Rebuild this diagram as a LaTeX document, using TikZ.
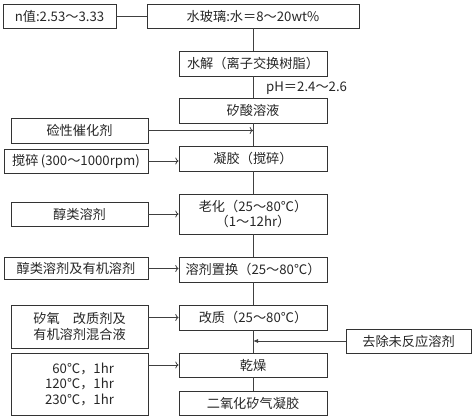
\documentclass[tikz,border=0pt]{standalone}
\usepackage{fontspec}
\setmainfont{Noto Sans CJK SC}
\usetikzlibrary{arrows.meta}
\begin{document}
\begin{tikzpicture}[x=1pt,y=-1pt]
\tikzstyle{every node}=[font=\fontsize{13.2}{15.5}\selectfont,inner sep=0pt,text=black!85]
\tikzstyle{box}=[draw=black!80,line width=0.8pt,minimum height=24pt,align=center]
\tikzstyle{midbox}=[box,minimum width=148pt]
\tikzstyle{leftbox}=[box,minimum width=137pt]
\tikzstyle{link}=[draw=black!75,line width=0.8pt]
\useasboundingbox (0,0) rectangle (474,420);
% main column
\node[box,minimum width=212pt] (glass) at (253,16) {水玻璃:水＝8～20wt\%};
\node[midbox,minimum height=25pt] (hydro) at (253,63.5) {水解（离子交换树脂）};
\node[midbox,minimum height=25pt] (silicic) at (253,110.5) {矽酸溶液};
\node[midbox,minimum height=25pt] (gel) at (253,158.5) {凝胶（搅碎）};
\node[midbox,minimum height=40pt] (aging) at (253,214) {老化（25～80℃）\\（1～12hr）};
\node[midbox,minimum height=25pt] (exchange) at (253,269.5) {溶剂置换（25～80℃）};
\node[midbox,minimum height=25pt] (modify) at (253,317.5) {改质（25～80℃）};
\node[midbox] (dry) at (253,365) {乾燥};
\node[midbox] (product) at (253,403) {二氧化矽气凝胶};
% side inputs
\node[box,minimum width=113pt] (nval) at (59.5,16) {n值:2.53～3.33};
\node[leftbox,minimum height=25pt] (catalyst) at (79.5,130.5) {硷性催化剂};
\node[box,minimum width=144pt] (stir) at (76,161) {搅碎\,(300～1000rpm)};
\node[leftbox] (alcohol) at (79.5,214) {醇类溶剂};
\node[box,minimum width=144pt,minimum height=22pt] (alcorg) at (76,268.5) {醇类溶剂及有机溶剂};
\node[leftbox,minimum height=43pt] (modifier) at (79.5,326.5) {矽氧　改质剂及\\有机溶剂混合液};
\node[leftbox,minimum height=62pt,align=right] (temp) at (79.5,384) {60℃，1hr\\120℃，1hr\\230℃，1hr};
\node[box,minimum width=125pt] (remove) at (408.5,341) {去除未反应溶剂};
\node[anchor=west] (ph) at (266,88) {pH＝2.4～2.6};
\coordinate (c1) at (253,130.5);
\coordinate (c2) at (253,341);
% connectors
\path[link] (nval) -- (glass);
\path[link] (glass) -- (hydro) -- (silicic) -- (gel) -- (aging) -- (exchange) -- (modify) -- (dry) -- (product);
\path[link,->] (catalyst.east) -- (c1);
\path[link,->] (stir.east) -- (stir.east -| gel.west);
\path[link,->] (alcohol) -- (aging);
\path[link,->] (alcorg.east) -- (alcorg.east -| exchange.west);
\path[link,->] (modify.west -| modifier.east) -- (modify.west);
\path[link,->] (dry.west -| temp.east) -- (dry.west);
\path[link,-{Latex[length=5pt,width=4pt]}] (remove) -- (c2);
\end{tikzpicture}
\end{document}
